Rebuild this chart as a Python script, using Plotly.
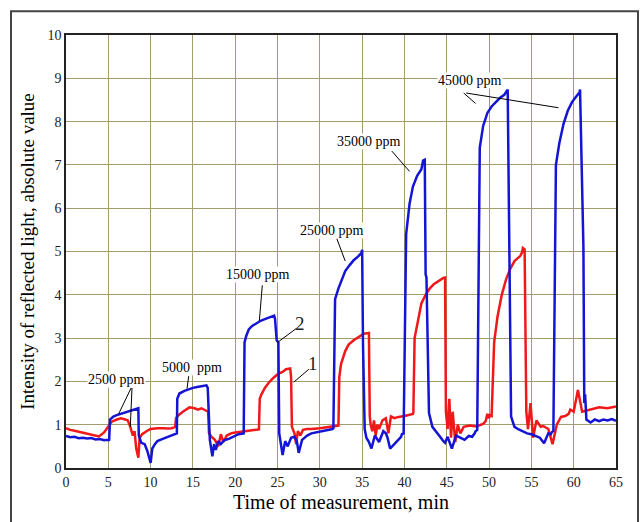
import plotly.graph_objects as go

# ---- data ----
# Curve 1 (red)
red_t = [0, 0.5, 1, 1.5, 2, 2.5, 3, 3.5, 3.9, 4.5, 5.0, 5.4, 6.0, 6.5, 7.0, 7.3, 7.6, 7.9, 8.1, 8.3, 8.55, 8.7, 9.0, 9.2,
         9.6, 10.0, 10.8, 11.5, 12.0, 12.5, 12.9, 13.0, 13.3, 13.8, 14.6, 15.2, 15.6, 16.0, 16.6, 16.8, 16.9, 17.2, 17.6,
         18.0, 18.3, 18.6, 19.0, 19.5, 20.0, 21.0, 22.0, 22.8, 22.9, 23.1, 23.5, 24.0, 24.5, 25.1, 25.6, 26.0, 26.5, 26.6,
         26.7, 27.0, 27.2, 27.4, 27.7, 28.0, 28.5, 29.0, 30.0, 31.0, 31.5, 32.2, 32.3, 32.5, 33.0, 33.4, 34.0, 34.5, 35.2,
         35.8, 35.9, 36.0, 36.2, 36.4, 36.6, 36.8, 37.0, 37.4, 37.8, 38.1, 38.4, 38.8, 39.3, 40.0, 40.5, 41.0, 41.05, 41.2,
         41.6, 42.0, 42.5, 43.0, 43.5, 44.0, 44.6, 44.8, 44.9, 45.1, 45.3, 45.5, 45.7, 46.0, 46.3, 46.6, 47.0, 47.7, 48.5,
         49.3, 49.6, 49.8, 50.0, 50.1, 50.3, 50.6, 51.0, 51.5, 52.0, 52.5, 53.0, 53.7, 53.9, 54.0, 54.2, 54.4, 54.6, 54.9,
         55.2, 55.6, 56.1, 56.4, 57.0, 57.5, 58.0, 58.5, 59.0, 59.4, 59.5, 59.6, 60.0, 60.5, 61.0, 62.0, 63.0, 64.0, 65.0]
red_v = [0.92, 0.88, 0.86, 0.84, 0.82, 0.80, 0.78, 0.76, 0.73, 0.82, 0.95, 1.07, 1.12, 1.15, 1.12, 1.10, 0.95, 0.75, 0.85,
         0.45, 0.24, 0.70, 0.78, 0.81, 0.86, 0.90, 0.92, 0.92, 0.91, 0.92, 0.95, 1.15, 1.22, 1.30, 1.40, 1.38, 1.35, 1.38,
         1.32, 1.30, 0.80, 0.72, 0.65, 0.50, 0.78, 0.60, 0.75, 0.80, 0.82, 0.84, 0.86, 0.89, 1.60, 1.70, 1.85, 1.98, 2.08,
         2.18, 2.22, 2.28, 2.30, 2.10, 0.95, 0.80, 0.55, 0.85, 0.75, 0.88, 0.90, 0.90, 0.92, 0.95, 0.96, 0.98, 2.10,
         2.40, 2.70, 2.85, 2.95, 3.02, 3.10, 3.12, 1.20, 1.00, 0.85, 1.10, 0.75, 1.00, 0.90, 1.10, 1.15, 0.80, 1.19,
         1.15, 1.18, 1.20, 1.22, 1.25, 1.28, 3.00, 3.40, 3.80, 4.00, 4.15, 4.25, 4.32, 4.39, 4.40, 1.30, 0.90, 1.60,
         0.70, 1.30, 0.60, 1.00, 0.80, 0.95, 0.98, 0.96, 1.02, 1.08, 1.25, 1.15, 1.22, 1.20, 2.90, 3.50, 4.00, 4.35,
         4.60, 4.78, 4.90, 4.98, 5.08, 5.05, 1.30, 0.90, 1.50, 0.70, 1.10, 0.95, 0.97, 0.90, 0.55, 1.00, 1.18, 1.20,
         1.25, 1.30, 1.35, 1.30, 1.80, 1.30, 1.35, 1.40, 1.38, 1.42, 1.45, 1.48, 1.52]

# Curve 2 (blue)
blue_t = [0, 0.5, 1, 1.5, 2, 2.5, 3, 3.5, 4, 4.5, 5.0, 5.1, 5.2, 5.6, 6.0, 6.5, 7.0, 7.5, 8.0, 8.55, 8.6, 8.9, 9.3, 9.6,
          10.0, 10.2, 10.5, 10.8, 11.5, 12.0, 12.5, 13.1, 13.15, 13.4, 14.0, 14.5, 15.0, 15.5, 16.0, 16.6, 16.75, 17.0,
          17.3, 17.5, 17.7, 18.0, 18.3, 18.7, 19.3, 20.0, 20.4, 21.0, 21.1, 21.3, 21.6, 22.0, 22.5, 23.0, 23.5, 24.0,
          24.6, 24.7, 24.9, 25.1, 25.2, 25.4, 25.6, 25.9, 26.2, 26.6, 27.0, 27.3, 27.5, 27.9, 28.5, 29.0, 29.5, 30.0,
          30.5, 31.0, 31.5, 31.6, 31.8, 32.2, 32.6, 33.0, 33.5, 34.0, 34.5, 34.9, 35.0, 35.1, 35.3, 35.5, 35.8, 36.1,
          36.5, 37.0, 37.5, 37.8, 38.0, 38.3, 38.8, 39.3, 39.6, 39.7, 39.9, 40.2, 40.6, 41.0, 41.5, 42.0, 42.15, 42.2,
          42.4, 42.5, 42.6, 42.9, 43.3, 43.8, 44.3, 44.6, 44.8, 45.1, 45.6, 46.1, 46.6, 47.1, 47.6, 48.0, 48.3, 48.4,
          48.6, 48.9, 49.3, 49.8, 50.3, 50.8, 51.3, 51.8, 52.0, 52.05, 52.2, 52.6, 53.0, 53.5, 54.0, 54.5, 55.0, 55.4,
          55.7, 56.0, 56.5, 57.0, 57.3, 57.4, 57.6, 57.9, 58.3, 58.8, 59.3, 59.8, 60.3, 60.7, 60.75, 61.1, 61.15,
          61.25, 61.35, 61.5, 62.0, 62.5, 63.0, 63.5, 64.0, 64.5, 65.0]
blue_v = [0.74, 0.71, 0.72, 0.69, 0.70, 0.68, 0.69, 0.66, 0.67, 0.64, 0.65, 0.63, 1.12, 1.19, 1.22, 1.25, 1.28, 1.31,
          1.34, 1.38, 0.75, 0.58, 0.55, 0.40, 0.12, 0.45, 0.55, 0.62, 0.68, 0.72, 0.76, 0.80, 1.60, 1.72, 1.78, 1.82,
          1.85, 1.87, 1.89, 1.91, 1.85, 0.65, 0.27, 0.55, 0.42, 0.62, 0.55, 0.64, 0.68, 0.74, 0.78, 0.80, 2.90, 3.05,
          3.20, 3.28, 3.35, 3.40, 3.44, 3.48, 3.52, 3.45, 2.95, 2.90, 0.80, 0.55, 0.30, 0.62, 0.50, 0.70, 0.72, 0.60,
          0.35, 0.65, 0.75, 0.80, 0.82, 0.84, 0.85, 0.88, 0.90, 0.92, 3.90, 4.15, 4.35, 4.55, 4.68, 4.80, 4.88, 4.96,
          5.04, 2.87, 0.90, 0.70, 0.60, 0.45, 0.75, 0.60, 0.85, 0.80, 0.70, 0.45, 0.55, 0.65, 0.72, 0.78, 0.80, 5.40,
          6.10, 6.50, 6.75, 6.90, 7.02, 7.10, 7.12, 4.47, 4.40, 1.27, 0.95, 0.81, 0.70, 0.62, 0.58, 0.72, 0.45, 0.75,
          0.70, 0.65, 0.74, 0.72, 0.80, 0.85, 0.88, 7.40, 7.90, 8.20, 8.35, 8.45, 8.55, 8.62, 8.68, 8.72, 8.74, 1.19,
          0.95, 0.89, 0.85, 0.80, 0.78, 0.75, 0.72, 0.70, 0.57, 0.80, 0.78, 0.82, 0.86, 7.00, 7.50, 7.95, 8.25, 8.45,
          8.58, 8.68, 8.74, 5.16, 5.10, 1.50, 1.70, 1.12, 1.05, 1.12, 1.08, 1.12, 1.10, 1.13, 1.09, 1.12, 1.10]

x_ticks = [0, 5, 10, 15, 20, 25, 30, 35, 40, 45, 50, 55, 60, 65]
y_ticks = [0, 1, 2, 3, 4, 5, 6, 7, 8, 9, 10]

# labels on the chart
ppm_labels = ["2500 ppm", "5000  ppm", "15000 ppm", "25000 ppm", "35000 ppm", "45000 ppm"]
ppm_pos = [(6.0, 2.05), (14.85, 2.32), (22.7, 4.47), (31.4, 5.48), (35.8, 7.55), (47.8, 8.95)]
callouts = [((7.7, 1.85), (6.2, 1.24)), ((7.8, 1.85), (7.6, 0.95)),
            ((14.5, 2.12), (14.3, 1.83)),
            ((23.2, 4.22), (22.85, 3.40)),
            ((32.0, 5.30), (33.0, 4.78)),
            ((38.5, 7.32), (40.6, 6.85)),
            ((47.0, 8.66), (48.4, 8.42)), ((47.3, 8.66), (58.2, 8.32))]
curve_labels = [("2", 27.7, 3.33), ("1", 29.2, 2.41)]
curve_label_lines = [((27.2, 3.22), (25.0, 2.90)), ((28.7, 2.28), (26.9, 1.98))]

fig = go.Figure()
fig.add_trace(go.Scatter(x=red_t, y=red_v, mode="lines", line=dict(color="#f01818", width=2.5),
                         showlegend=False, hoverinfo="skip"))
fig.add_trace(go.Scatter(x=blue_t, y=blue_v, mode="lines", line=dict(color="#1414d4", width=2.5),
                         showlegend=False, hoverinfo="skip"))

serif = "Liberation Serif, Times New Roman, serif"
annotations = []
for txt, (xx, yy) in zip(ppm_labels, ppm_pos):
    annotations.append(dict(x=xx, y=yy, text=txt, showarrow=False, xref="x", yref="y",
                            font=dict(family=serif, size=14, color="black"), bgcolor="white", borderpad=0))
for txt, xx, yy in curve_labels:
    annotations.append(dict(x=xx, y=yy, text=txt, showarrow=False, xref="x", yref="y",
                            font=dict(family=serif, size=19, color="#222")))

shapes = []
for (p0, p1) in callouts + curve_label_lines:
    shapes.append(dict(type="line", xref="x", yref="y", x0=p0[0], y0=p0[1], x1=p1[0], y1=p1[1],
                       line=dict(color="black", width=1)))
# outer frame
shapes.append(dict(type="rect", xref="paper", yref="paper", x0=-0.1, x1=1.04, y0=-0.25, y1=1.055,
                   line=dict(color="#444", width=2), layer="below"))

fig.update_layout(
    width=642, height=522,
    margin=dict(l=66, r=26, t=35, b=50),
    paper_bgcolor="white", plot_bgcolor="white",
    annotations=annotations, shapes=shapes,
    xaxis=dict(range=[0, 65], tickvals=x_ticks, showgrid=True, gridcolor="#a39c6c", gridwidth=1,
               zeroline=False, showline=True, linecolor="#222", linewidth=1.5, mirror=True,
               tickfont=dict(family=serif, size=14, color="#222"),
               title=dict(text="Time of measurement, min", font=dict(family=serif, size=20, color="black"),
                          standoff=6)),
    yaxis=dict(range=[0, 10], tickvals=y_ticks, showgrid=True, gridcolor="#a39c6c", gridwidth=1,
               zeroline=False, showline=True, linecolor="#222", linewidth=1.5, mirror=True,
               tickfont=dict(family=serif, size=14, color="#222"),
               title=dict(text="Intensity of reflected light, absolute value",
                          font=dict(family=serif, size=19, color="black"), standoff=8)),
)

fig.write_html("out.html")
